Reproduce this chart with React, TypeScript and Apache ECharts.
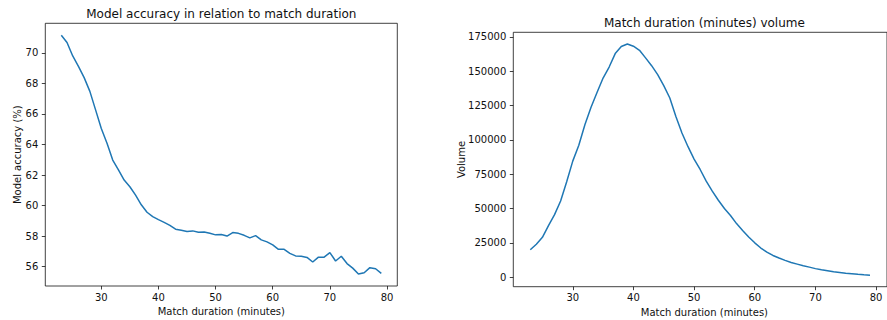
import React, { useEffect, useRef } from "react";
import * as echarts from "echarts";

const minutes = [
  23, 24, 25, 26, 27, 28, 29, 30, 31, 32, 33, 34, 35, 36, 37, 38, 39, 40, 41,
  42, 43, 44, 45, 46, 47, 48, 49, 50, 51, 52, 53, 54, 55, 56, 57, 58, 59, 60,
  61, 62, 63, 64, 65, 66, 67, 68, 69, 70, 71, 72, 73, 74, 75, 76, 77, 78, 79,
];

const accuracy = [
  71.16, 70.68, 69.8, 69.12, 68.38, 67.48, 66.27, 65.05, 64.08, 62.98, 62.33,
  61.67, 61.23, 60.68, 60.05, 59.56, 59.28, 59.08, 58.9, 58.7, 58.45, 58.38,
  58.3, 58.34, 58.25, 58.27, 58.18, 58.08, 58.1, 58.0, 58.23, 58.18, 58.05,
  57.88, 58.03, 57.75, 57.62, 57.42, 57.13, 57.13, 56.87, 56.7, 56.68, 56.6,
  56.3, 56.62, 56.62, 56.92, 56.37, 56.68, 56.2, 55.9, 55.51, 55.6, 55.93,
  55.86, 55.56,
];

const volume = [
  19900, 24000, 29000, 37500, 45500, 55500, 69500, 84500, 96000, 111000,
  123500, 134500, 145000, 153000, 162800, 168000, 169800, 168200, 165200,
  159700, 154000, 147500, 139500, 130500, 117000, 105000, 95000, 86000, 78400,
  69900, 62600, 56000, 50000, 44900, 39000, 34000, 29300, 25000, 21200, 18200,
  15800, 13900, 12200, 10700, 9500, 8300, 7300, 6200, 5400, 4700, 3900, 3400,
  2900, 2500, 2100, 1750, 1450,
];

const xTicks = [30, 40, 50, 60, 70, 80];
const accTicks = [56, 58, 60, 62, 64, 66, 68, 70];
const volTicks = [0, 25000, 50000, 75000, 100000, 125000, 150000, 175000];

const leftTitle = "Model accuracy in relation to match duration";
const rightTitle = "Match duration (minutes) volume";
const xName = "Match duration (minutes)";
const leftYName = "Model accuracy (%)";
const rightYName = "Volume";

const FONT = "DejaVu Sans";
const INK = "#111";

function xAxisCfg(gridIndex: number) {
  return {
    gridIndex,
    type: "value",
    min: 20.2,
    max: 81.8,
    splitLine: { show: false },
    axisLine: { show: false, onZero: false },
    axisTick: {
      show: true,
      length: 3.5,
      customValues: xTicks,
      lineStyle: { color: INK, width: 0.8 },
    },
    axisLabel: {
      customValues: xTicks,
      formatter: (v: number) => String(v),
      margin: 6,
      color: INK,
      fontSize: 10,
      fontFamily: FONT,
    },
  };
}

function yAxisCfg(gridIndex: number, min: number, max: number, ticks: number[]) {
  return {
    gridIndex,
    type: "value",
    min,
    max,
    splitLine: { show: false },
    axisLine: { show: false, onZero: false },
    axisTick: {
      show: true,
      length: 3.5,
      customValues: ticks,
      lineStyle: { color: INK, width: 0.8 },
    },
    axisLabel: {
      customValues: ticks,
      formatter: (v: number) => String(v),
      margin: 7,
      color: INK,
      fontSize: 10,
      fontFamily: FONT,
    },
  };
}

function textEl(text: string, x: number, y: number, size: number, rotation = 0) {
  return {
    type: "text",
    x,
    y,
    rotation,
    style: {
      text,
      fill: INK,
      fontSize: size,
      fontFamily: FONT,
      align: "center",
      verticalAlign: "middle",
    },
  };
}

export default function App() {
  const ref = useRef<HTMLDivElement>(null);
  useEffect(() => {
    if (!ref.current) return;
    const chart = echarts.init(ref.current, null, { renderer: "svg" });
    const option = {
      animation: false,
      backgroundColor: "#fff",
      textStyle: { fontFamily: FONT },
      grid: [
        {
          left: 45.3,
          top: 23.3,
          width: 352,
          height: 262.7,
          show: true,
          borderColor: INK,
          borderWidth: 0.8,
          backgroundColor: "transparent",
        },
        {
          left: 513.3,
          top: 32.3,
          width: 382.2,
          height: 254.4,
          show: true,
          borderColor: INK,
          borderWidth: 0.8,
          backgroundColor: "transparent",
        },
      ],
      xAxis: [xAxisCfg(0), xAxisCfg(1)],
      yAxis: [
        yAxisCfg(0, 54.73, 71.94, accTicks),
        yAxisCfg(1, -6960, 178320, volTicks),
      ],
      series: [
        {
          type: "line",
          xAxisIndex: 0,
          yAxisIndex: 0,
          data: minutes.map((m, i) => [m, accuracy[i]]),
          showSymbol: false,
          lineStyle: { color: "#1f77b4", width: 1.5 },
          itemStyle: { color: "#1f77b4" },
        },
        {
          type: "line",
          xAxisIndex: 1,
          yAxisIndex: 1,
          data: minutes.map((m, i) => [m, volume[i]]),
          showSymbol: false,
          lineStyle: { color: "#1f77b4", width: 1.5 },
          itemStyle: { color: "#1f77b4" },
        },
      ],
      graphic: [
        textEl(leftTitle, 221.3, 14.3, 12),
        textEl(rightTitle, 704.4, 23.3, 12),
        textEl(xName, 221.3, 311, 10),
        textEl(xName, 704.4, 312, 10),
        textEl(leftYName, 17, 154.7, 10, Math.PI / 2),
        textEl(rightYName, 461, 159.5, 10, Math.PI / 2),
      ],
    };
    chart.setOption(option as any);
    return () => chart.dispose();
  }, []);
  return (
    <div
      ref={ref}
      style={{ position: "absolute", left: 0, top: 0, width: 887, height: 320 }}
    />
  );
}
